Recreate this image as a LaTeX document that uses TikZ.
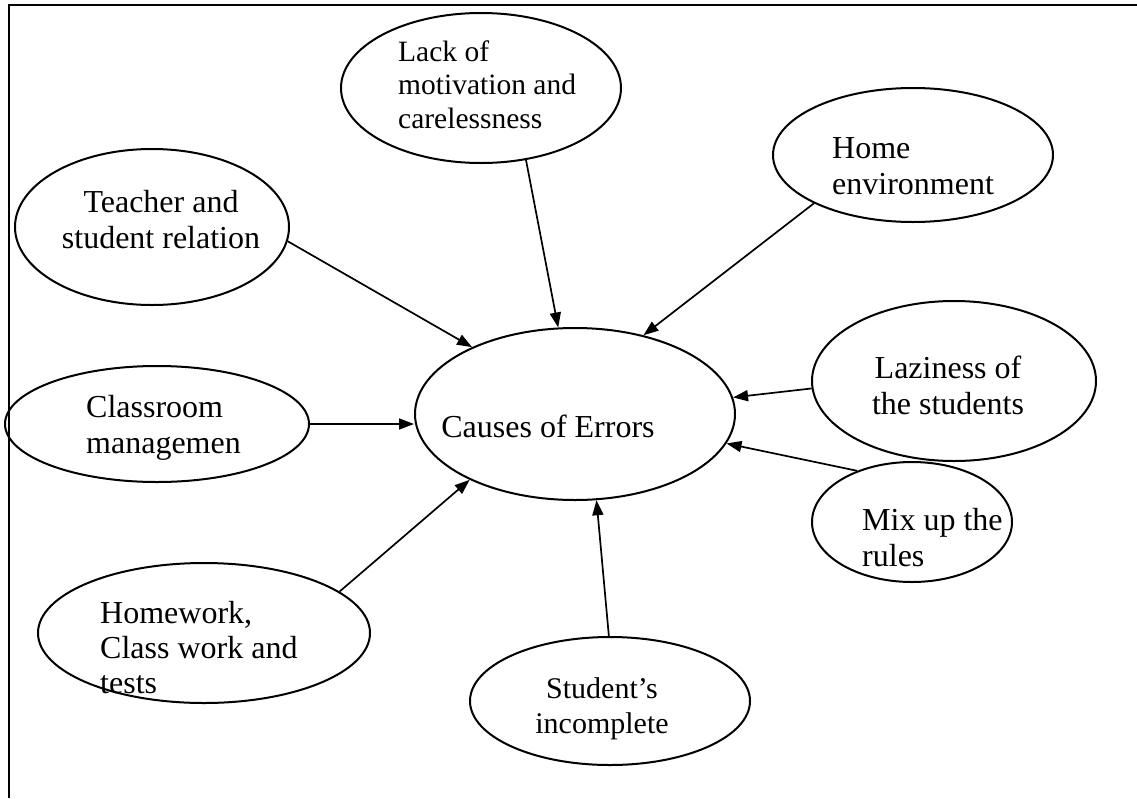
\documentclass[tikz,border=0pt]{standalone}
\usepackage{fontspec}
\setmainfont{Liberation Serif}
\usetikzlibrary{shapes.geometric,arrows.meta}
\begin{document}
\begin{tikzpicture}[x=1pt,y=-1pt,
  bub/.style={draw,ellipse,line width=2pt,inner sep=0pt},
  lbl/.style={inner sep=0pt,font=\fontsize{32}{36}\selectfont},
  arr/.style={line width=1.7pt,-{Triangle[length=15pt,width=11pt]}}]
\useasboundingbox (0,0) rectangle (1137,798);
\draw[line width=2.5pt] (9,798) -- (9,5) -- (1137,5);
% ellipses
\node[bub,minimum width=320pt,minimum height=172pt] (c) at (575,414) {};
\node[bub,minimum width=280pt,minimum height=150pt] (L) at (481,88) {};
\node[bub,minimum width=280pt,minimum height=134pt] (H) at (913,155) {};
\node[bub,minimum width=274pt,minimum height=156pt] (T) at (152,227) {};
\node[bub,minimum width=304pt,minimum height=116pt] (C) at (157,424) {};
\node[bub,minimum width=284pt,minimum height=160pt] (Z) at (954,381) {};
\node[bub,minimum width=200pt,minimum height=120pt] (M) at (912,522) {};
\node[bub,minimum width=280pt,minimum height=128pt] (S) at (610,701) {};
\node[bub,minimum width=332pt,minimum height=140pt] (W) at (204,633) {};
% texts (anchor base = baseline of last line)
\node[lbl,font=\fontsize{29.5}{33.5}\selectfont,align=left,anchor=base west] (Lt) at (398,128) {Lack of\\motivation and\\carelessness};
\node[lbl,align=left,anchor=base west] (Ht) at (832,194) {Home\\environment};
\node[lbl,align=center,anchor=base] (Tt) at (161,248) {Teacher and\\student relation};
\node[lbl,align=left,anchor=base west] (Ct) at (86,453) {Classroom\\managemen};
\node[lbl,anchor=base] (ct) at (548,437) {Causes of Errors};
\node[lbl,align=center,anchor=base] (Zt) at (948,414) {Laziness of\\the students};
\node[lbl,align=left,anchor=base west] (Mt) at (862,566) {Mix up the\\rules};
\node[lbl,font=\fontsize{30}{35}\selectfont,align=center,anchor=base] (St) at (602,733) {Student’s\\incomplete};
\node[lbl,font=\fontsize{32}{35}\selectfont,align=left,anchor=base west] (Wt) at (100,693) {Homework,\\Class work and\\tests};
% arrows
\draw[arr] (L.-58) -- (c.101.7);
\draw[arr] (H.206.6) -- (c.49.5);
\draw[arr] (T.-6.8) -- (c.147.4);
\draw[arr] (C.east) -- (C.east -| c.west);
\draw[arr] (Z.183) -- (c.6);
\draw[arr] (M.137.8) -- (c.-11.3);
\draw[arr] (S.91) -- (c.-76);
\draw[arr] (W.17.2) -- (c.212.3);
\end{tikzpicture}
\end{document}
